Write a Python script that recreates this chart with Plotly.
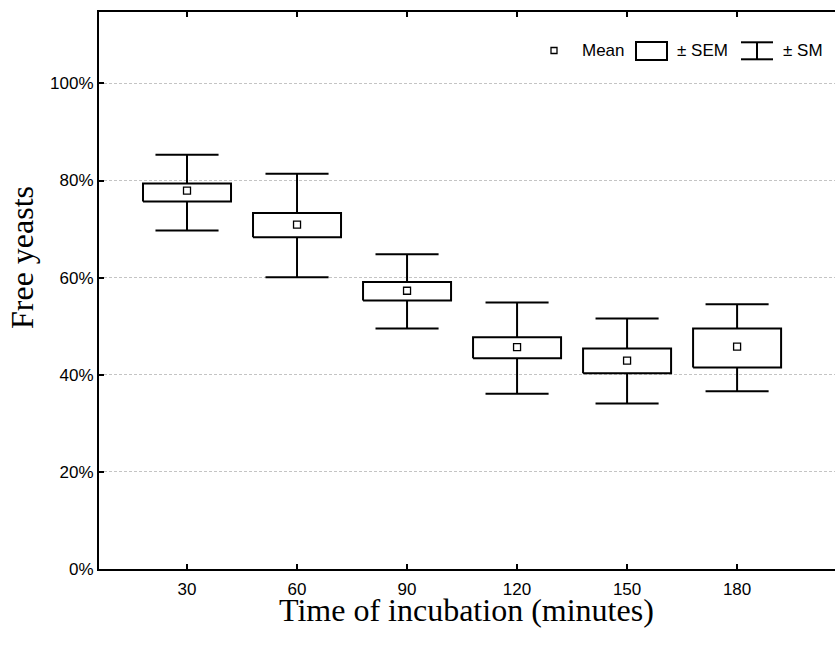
import plotly.graph_objects as go

# Incubation times (minutes) and summary statistics of free yeasts (fraction)
times = [30, 60, 90, 120, 150, 180]
mean = [0.779, 0.709, 0.573, 0.457, 0.429, 0.458]
sem_low = [0.757, 0.683, 0.553, 0.434, 0.403, 0.415]
sem_high = [0.794, 0.733, 0.591, 0.477, 0.454, 0.495]
sm_low = [0.697, 0.601, 0.495, 0.361, 0.341, 0.366]
sm_high = [0.853, 0.814, 0.648, 0.549, 0.516, 0.545]
y_ticks = [0, 0.2, 0.4, 0.6, 0.8, 1.0]

W, H = 835, 645
ML, MR, MT, MB = 99, 0, 12, 76
PW, PH = W - ML - MR, H - MT - MB

BOX_HALF = 12.0   # half box width in minutes
CAP_HALF = 8.6    # half whisker-cap width in minutes

fig = go.Figure()

# whiskers (+/- SM)
wx, wy = [], []
for t, lo, hi in zip(times, sm_low, sm_high):
    wx += [t, t, None, t - CAP_HALF, t + CAP_HALF, None, t - CAP_HALF, t + CAP_HALF, None]
    wy += [lo, hi, None, hi, hi, None, lo, lo, None]
fig.add_trace(go.Scatter(x=wx, y=wy, mode="lines",
                         line=dict(color="black", width=2), hoverinfo="skip",
                         showlegend=False))

# boxes (+/- SEM)
for t, lo, hi in zip(times, sem_low, sem_high):
    fig.add_trace(go.Scatter(
        x=[t - BOX_HALF, t + BOX_HALF, t + BOX_HALF, t - BOX_HALF, t - BOX_HALF],
        y=[lo, lo, hi, hi, lo], mode="lines", fill="toself", fillcolor="white",
        line=dict(color="black", width=2), hoverinfo="skip", showlegend=False))

# means
fig.add_trace(go.Scatter(x=times, y=mean, mode="markers",
                         marker=dict(symbol="square", size=7, color="white",
                                     line=dict(color="black", width=1.3)),
                         showlegend=False))


def px(x):
    return (x - ML) / PW


def py(y):
    return (H - MB - y) / PH


# legend built from icons and labels
shapes = []
annotations = []
lab_font = dict(family="Liberation Sans, Arial", size=17, color="black")
shapes.append(dict(type="rect", xref="paper", yref="paper",
                   x0=px(551), x1=px(557), y0=py(53.5), y1=py(47.5),
                   line=dict(color="black", width=1.3), fillcolor="white"))
annotations.append(dict(text="Mean", xref="paper", yref="paper", x=px(580), y=py(51),
                        xanchor="left", yanchor="middle", showarrow=False, font=lab_font))
shapes.append(dict(type="rect", xref="paper", yref="paper",
                   x0=px(636), x1=px(667), y0=py(60), y1=py(42),
                   line=dict(color="black", width=2), fillcolor="white"))
annotations.append(dict(text="± SEM", xref="paper", yref="paper", x=px(675), y=py(51),
                        xanchor="left", yanchor="middle", showarrow=False, font=lab_font))
for seg in [(741, 42.3, 773, 42.3), (741, 59.3, 773, 59.3), (757, 42.3, 757, 59.3)]:
    shapes.append(dict(type="line", xref="paper", yref="paper",
                       x0=px(seg[0]), y0=py(seg[1]), x1=px(seg[2]), y1=py(seg[3]),
                       line=dict(color="black", width=2)))
annotations.append(dict(text="± SM", xref="paper", yref="paper", x=px(781), y=py(51),
                        xanchor="left", yanchor="middle", showarrow=False, font=lab_font))

# axis titles
title_font = dict(family="Liberation Serif, Times New Roman", size=32, color="black")
annotations.append(dict(text="Time of incubation (minutes)", xref="paper", yref="paper",
                        x=px(466), y=py(610), xanchor="center", yanchor="middle",
                        showarrow=False, font=title_font))
annotations.append(dict(text="Free yeasts", xref="paper", yref="paper",
                        x=px(22), y=py(258), xanchor="center", yanchor="middle",
                        textangle=-90, showarrow=False, font=title_font))

fig.update_layout(
    width=W, height=H,
    margin=dict(l=ML, r=MR, t=MT, b=MB),
    paper_bgcolor="white", plot_bgcolor="white",
    shapes=shapes, annotations=annotations,
    xaxis=dict(range=[6, 206.7], tickvals=times, ticktext=[str(t) for t in times],
               ticks="inside", ticklen=5, tickwidth=2, tickcolor="black",
               showline=True, linewidth=2, linecolor="black", mirror="ticks",
               showgrid=False, zeroline=False, tickfont=lab_font,
               ticklabelstandoff=4),
    yaxis=dict(range=[0, 1.147], tickvals=y_ticks, tickformat=".0%",
               ticks="inside", ticklen=5, tickwidth=2, tickcolor="black",
               showline=True, linewidth=2, linecolor="black", mirror=False,
               showgrid=True, gridcolor="#c4c4c4", gridwidth=1, griddash="3px,2px",
               zeroline=False, tickfont=lab_font),
)

fig.write_html("out.html")
